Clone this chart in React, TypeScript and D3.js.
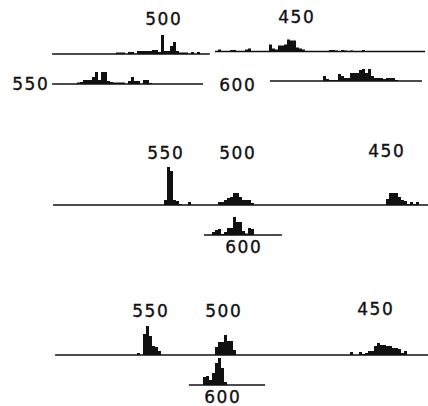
import { useEffect, useRef } from 'react';
import * as d3 from 'd3';

// counts per bin (bin = 3px on the page scale)
const topLeft500 = [1.5, 1.5, 1.5, 0, 2, 2, 0, 3, 3, 3, 3, 3, 4, 4, 2, 19, 3, 3, 8, 12, 3, 1.5, 1.5, 1.5, 0, 2, 0, 2];
const topRight450 = [2, 0, 0, 0, 1.5, 1.5, 0, 0, 0, 2, 3, 0, 0, 0, 0, 0, 0, 7, 3, 2, 6, 6, 7, 12, 11, 11, 4, 3, 2, 0, 0, 0, 0, 0, 0, 0, 0, 1.5, 1.5, 1, 0, 1.5, 1, 0, 1, 0, 0, 0, 1.5];
const topLeft550 = [1.5, 2, 4, 4, 4, 7, 12, 4, 12, 12, 3, 2, 1.5, 1.5, 1.5, 1.5, 0, 3, 7, 3, 3, 0, 4, 4, 1];
const topRight600 = [5, 2, 1, 1, 1, 7, 5, 3, 3, 8, 8, 8, 11, 12, 8, 12, 5, 3, 3, 3, 2, 3, 3, 3, 1];

const mid550 = [5, 38, 34, 5, 4, 1, 0, 0, 3];
const mid500 = [3, 3, 5, 7, 8, 12, 12, 8, 5, 5, 5, 2];
const mid450 = [6, 12, 12, 12, 8, 5, 4, 1, 3, 1, 3];
const mid600 = [3, 5, 6, 1, 3, 7, 7, 18, 13, 13, 4, 1.5, 7, 6];

const low550 = [2, 0, 21, 29, 19, 9, 8, 4];
const low500 = [8, 13, 13, 20, 14, 14, 5];
const low450 = [3, 0, 0, 3, 1, 2, 4, 4, 9, 12, 10, 10, 9, 9, 7, 7, 6, 2, 4];
const low600 = [8, 9, 5, 12, 22, 27, 17, 3];

// where each histogram starts on the bin axis
const startBins = {
  topLeft500: 22, topRight450: 56, topLeft550: 9, topRight600: 91,
  mid550: 38, mid500: 56, mid450: 112, mid600: 54,
  low550: 29, low500: 55, low450: 100, low600: 51,
};

const W = 428;
const H = 406;

type Row = {
  y: number;
  line: [number, number];
  hists: { start: number; counts: number[] }[];
  labels: { text: string; x: number; y: number }[];
};

const rows: Row[] = [
  { y: 54, line: [0.7, 53.3], hists: [{ start: startBins.topLeft500, counts: topLeft500 }],
    labels: [{ text: '500', x: 163, y: 25 }] },
  { y: 51.5, line: [55, 125], hists: [{ start: startBins.topRight450, counts: topRight450 }],
    labels: [{ text: '450', x: 296, y: 23 }] },
  { y: 84, line: [0.7, 51], hists: [{ start: startBins.topLeft550, counts: topLeft550 }],
    labels: [{ text: '550', x: 30, y: 90 }] },
  { y: 81, line: [73.3, 124], hists: [{ start: startBins.topRight600, counts: topRight600 }],
    labels: [{ text: '600', x: 237, y: 91 }] },
  { y: 205, line: [1, 126],
    hists: [
      { start: startBins.mid550, counts: mid550 },
      { start: startBins.mid500, counts: mid500 },
      { start: startBins.mid450, counts: mid450 },
    ],
    labels: [{ text: '550', x: 165, y: 159 }, { text: '500', x: 237, y: 159 }, { text: '450', x: 386, y: 157 }] },
  { y: 235, line: [51.3, 77.3], hists: [{ start: startBins.mid600, counts: mid600 }],
    labels: [{ text: '600', x: 243, y: 253 }] },
  { y: 355, line: [1.7, 126],
    hists: [
      { start: startBins.low550, counts: low550 },
      { start: startBins.low500, counts: low500 },
      { start: startBins.low450, counts: low450 },
    ],
    labels: [{ text: '550', x: 150, y: 317 }, { text: '500', x: 223, y: 317 }, { text: '450', x: 375, y: 315 }] },
  { y: 385, line: [46.3, 71.7], hists: [{ start: startBins.low600, counts: low600 }],
    labels: [{ text: '600', x: 222, y: 403 }] },
];

export default function App() {
  const svgRef = useRef<SVGSVGElement>(null);

  useEffect(() => {
    if (!svgRef.current) return;
    const svg = d3.select(svgRef.current);
    svg.selectAll('*').remove();

    const x = d3.scaleLinear().domain([0, 126]).range([50, 428]);
    const y = d3.scaleLinear().domain([0, 40]).range([0, 40]);
    const bw = x(1) - x(0);
    const ink = '#111';

    rows.forEach(row => {
      const g = svg.append('g');

      g.append('line')
        .attr('x1', x(row.line[0]))
        .attr('x2', x(row.line[1]))
        .attr('y1', row.y)
        .attr('y2', row.y)
        .attr('stroke', ink)
        .attr('stroke-width', 1.6);

      row.hists.forEach(h => {
        g.selectAll(null)
          .data(h.counts.map((c, i) => ({ c, i })).filter(d => d.c > 0))
          .enter()
          .append('rect')
          .attr('x', d => x(h.start + d.i))
          .attr('width', bw)
          .attr('y', d => row.y - y(d.c))
          .attr('height', d => y(d.c))
          .attr('fill', ink);
      });

      row.labels.forEach(l => {
        g.append('text')
          .attr('x', l.x)
          .attr('y', l.y)
          .attr('dx', 0.75)
          .attr('text-anchor', 'middle')
          .attr('font-family', 'DejaVu Sans, sans-serif')
          .attr('font-size', 17)
          .attr('letter-spacing', 1.5)
          .attr('fill', ink)
          .attr('stroke', ink)
          .attr('stroke-width', 0.35)
          .text(l.text);
      });
    });
  }, []);

  return (
    <svg
      ref={svgRef}
      width={W}
      height={H}
      style={{ position: 'absolute', left: 0, top: 0, background: '#fff' }}
    />
  );
}
